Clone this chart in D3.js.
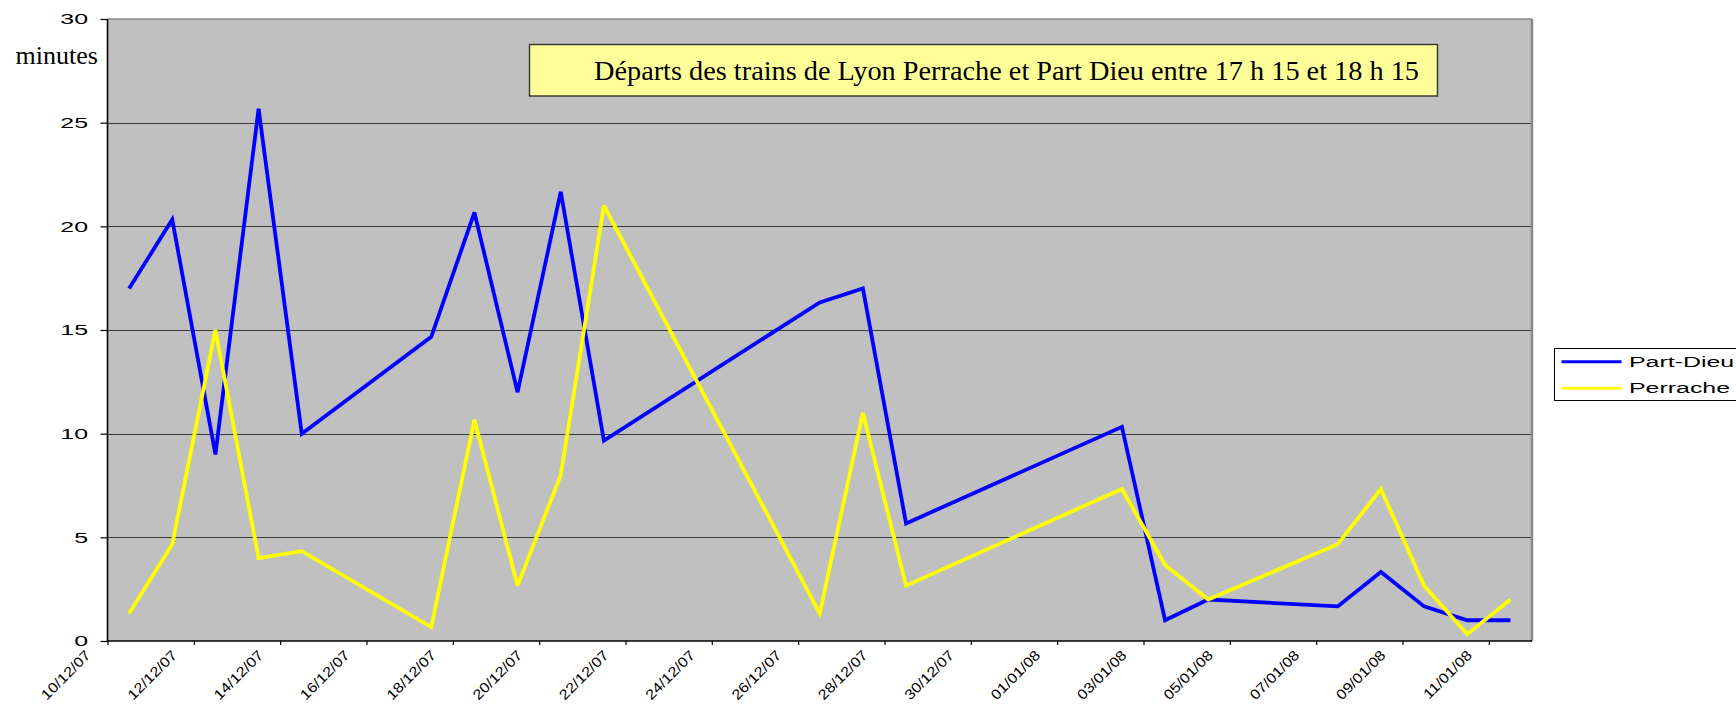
<!DOCTYPE html>
<html>
<head>
<meta charset="utf-8">
<script src="https://cdn.jsdelivr.net/npm/d3@7"></script>
<style>
html,body{margin:0;padding:0;background:#fff;}
svg{display:block;}
</style>
</head>
<body>
<svg id="chart" width="1736" height="707"></svg>
<script>
// ---- Data ----
const dates = ["10/12/07","11/12/07","12/12/07","13/12/07","14/12/07","17/12/07","18/12/07","19/12/07","20/12/07","21/12/07","26/12/07","27/12/07","28/12/07","02/01/08","03/01/08","04/01/08","07/01/08","08/01/08","09/01/08","10/01/08","11/01/08"];
const partDieu = [17, 20.33, 9, 25.67, 10, 14.67, 20.67, 12, 21.67, 9.67, 16.33, 17, 5.67, 10.33, 1, 2, 1.67, 3.33, 1.67, 1, 1];
const perrache = [1.33, 4.67, 15, 4, 4.33, 0.67, 10.67, 2.67, 8, 21, 1.33, 11, 2.67, 7.33, 3.67, 2, 4.67, 7.33, 2.67, 0.33, 2];
const xTickLabels = ["10/12/07","12/12/07","14/12/07","16/12/07","18/12/07","20/12/07","22/12/07","24/12/07","26/12/07","28/12/07","30/12/07","01/01/08","03/01/08","05/01/08","07/01/08","09/01/08","11/01/08"];
const yTicks = [0, 5, 10, 15, 20, 25, 30];
const xDomain = ["10/12/07", "12/01/08"];
const seriesNames = ["Part-Dieu", "Perrache"];
const seriesColors = ["#0000FF", "#FFFF00"];
const titleText = "Départs des trains de Lyon Perrache et Part Dieu entre 17 h 15 et 18 h 15";
const yAxisTitle = "minutes";

// ---- Layout ----
const parse = d3.utcParse("%d/%m/%y");
const plot = {left: 107.5, top: 19, right: 1532, bottom: 641};
const svg = d3.select("#chart");
const sansStretch = 1.72;

const x = d3.scaleUtc().domain(xDomain.map(parse)).range([plot.left, plot.right]);
const y = d3.scaleLinear().domain([0, 30]).range([plot.bottom, plot.top]);
const px = s => x(d3.utcHour.offset(parse(s), 12));

// plot background
svg.append("rect").attr("x", plot.left).attr("y", plot.top)
  .attr("width", plot.right - plot.left).attr("height", plot.bottom - plot.top)
  .attr("fill", "#C0C0C0");

// gridlines
svg.append("g").selectAll("line").data(yTicks.filter(v => v > 0 && v < 30)).join("line")
  .attr("x1", plot.left).attr("x2", plot.right)
  .attr("y1", d => Math.round(y(d)) + 0.5).attr("y2", d => Math.round(y(d)) + 0.5)
  .attr("stroke", "#3a3a3a").attr("stroke-width", 1.2);

// top & right border
svg.append("line").attr("x1", plot.left).attr("x2", plot.right).attr("y1", plot.top).attr("y2", plot.top)
  .attr("stroke", "#8a8a8a").attr("stroke-width", 1.5);
svg.append("line").attr("x1", plot.right).attr("x2", plot.right).attr("y1", plot.top).attr("y2", plot.bottom)
  .attr("stroke", "#8a8a8a").attr("stroke-width", 2.5);

// y axis
const yAxis = d3.axisLeft(y).tickValues(yTicks).tickSize(7).tickFormat(d => "");
const gy = svg.append("g").attr("transform", `translate(${plot.left},0)`).call(yAxis);
gy.select(".domain").attr("stroke", "#000").attr("stroke-width", 1.6).attr("d", `M0,${plot.top}V${plot.bottom}`);
gy.selectAll(".tick line").attr("stroke", "#000").attr("stroke-width", 1.2);
svg.append("g").selectAll("text").data(yTicks).join("text")
  .attr("transform", d => `translate(${plot.left - 19.5},${y(d) + 5.2}) scale(${sansStretch},1)`)
  .attr("text-anchor", "end")
  .attr("font-family", "Liberation Sans, Arial, sans-serif")
  .attr("font-size", 14.5)
  .attr("fill", "#000")
  .text(d => d);

// x axis
const xTickDates = xTickLabels.map(parse);
const xAxis = d3.axisBottom(x).tickValues(xTickDates).tickSize(4).tickFormat(d => "");
const gx = svg.append("g").attr("transform", `translate(0,${plot.bottom})`).call(xAxis);
gx.select(".domain").attr("stroke", "#000").attr("stroke-width", 1.6).attr("d", `M${plot.left},0H${plot.right}`);
gx.selectAll(".tick line").attr("stroke", "#000").attr("stroke-width", 1.2);
svg.append("g").selectAll("text").data(xTickLabels).join("text")
  .attr("transform", d => `translate(${x(parse(d)) - 16},${plot.bottom + 15}) rotate(-45) scale(1.16,1)`)
  .attr("text-anchor", "end")
  .attr("font-family", "Liberation Sans, Arial, sans-serif")
  .attr("font-size", 14)
  .attr("fill", "#000")
  .text(d => d);

// lines
const line = d3.line().x(d => px(d[0])).y(d => y(d[1]));
[partDieu, perrache].forEach((vals, i) => {
  svg.append("path")
    .datum(dates.map((d, j) => [d, vals[j]]))
    .attr("d", line)
    .attr("fill", "none")
    .attr("stroke", seriesColors[i])
    .attr("stroke-width", 3.8)
    .attr("stroke-linejoin", "miter")
    .attr("stroke-miterlimit", 3);
});

// title box
svg.append("rect").attr("x", 529.5).attr("y", 44.5).attr("width", 908).attr("height", 51.5)
  .attr("fill", "#FFFF99").attr("stroke", "#333").attr("stroke-width", 1.4);
svg.append("text").attr("x", 594).attr("y", 80)
  .attr("text-anchor", "start")
  .attr("font-family", "Liberation Serif, Times New Roman, serif")
  .attr("font-size", 27)
  .attr("textLength", 825)
  .attr("lengthAdjust", "spacingAndGlyphs")
  .attr("fill", "#000")
  .text(titleText);

// y axis title
svg.append("text").attr("x", 15.5).attr("y", 64)
  .attr("font-family", "Liberation Serif, Times New Roman, serif")
  .attr("font-size", 26)
  .attr("fill", "#000")
  .text(yAxisTitle);

// legend
const lg = svg.append("g");
lg.append("rect").attr("x", 1554.5).attr("y", 348.5).attr("width", 200).attr("height", 52)
  .attr("fill", "#fff").attr("stroke", "#000").attr("stroke-width", 1);
seriesNames.forEach((name, i) => {
  const ly = 361.7 + i * 26.6;
  lg.append("line").attr("x1", 1561.5).attr("x2", 1621.5).attr("y1", ly).attr("y2", ly)
    .attr("stroke", seriesColors[i]).attr("stroke-width", 3);
  lg.append("text")
    .attr("transform", `translate(1629,${ly + 5}) scale(${sansStretch},1)`)
    .attr("font-family", "Liberation Sans, Arial, sans-serif")
    .attr("font-size", 14.5)
    .attr("fill", "#000")
    .text(name);
});
</script>
</body>
</html>
